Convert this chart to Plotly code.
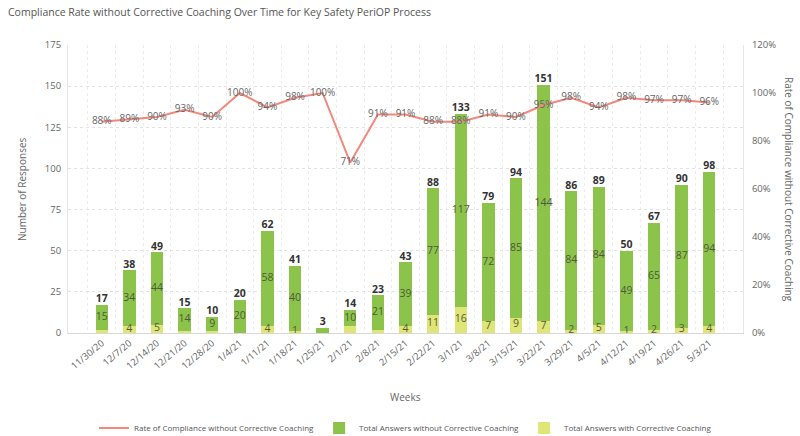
import plotly.graph_objects as go

weeks = ["11/30/20", "12/7/20", "12/14/20", "12/21/20", "12/28/20", "1/4/21", "1/11/21",
         "1/18/21", "1/25/21", "2/1/21", "2/8/21", "2/15/21", "2/22/21", "3/1/21", "3/8/21",
         "3/15/21", "3/22/21", "3/29/21", "4/5/21", "4/12/21", "4/19/21", "4/26/21", "5/3/21"]
without_coaching = [15, 34, 44, 14, 9, 20, 58, 40, 3, 10, 21, 39, 77, 117, 72, 85, 144, 84, 84, 49, 65, 87, 94]
with_coaching = [2, 4, 5, 1, 1, 0, 4, 1, 0, 4, 2, 4, 11, 16, 7, 9, 7, 2, 5, 1, 2, 3, 4]
rate_pct = [88, 89, 90, 93, 90, 100, 94, 98, 100, 71, 91, 91, 88, 88, 91, 90, 95, 98, 94, 98, 97, 97, 96]
green_label_shown = [True] * 8 + [False] + [True] * 14
yellow_label_shown = [False, True, True, False, False, False, True, True, False, False, False, True,
                      True, True, True, True, True, True, True, True, True, True, True]

totals = [a + b for a, b in zip(without_coaching, with_coaching)]

GREEN = "#8cc34b"
YELLOW = "#dfe677"
LINE = "#f3877b"
FONT = "Open Sans"
AX = "#666666"

fig = go.Figure()

fig.add_trace(go.Bar(
    x=weeks, y=with_coaching, name="Total Answers with Corrective Coaching",
    marker=dict(color=YELLOW, line=dict(width=0)), legendrank=3, hoverinfo="skip"))
fig.add_trace(go.Bar(
    x=weeks, y=without_coaching, name="Total Answers without Corrective Coaching",
    marker=dict(color=GREEN, line=dict(width=0)), legendrank=2, hoverinfo="skip"))

# inside labels
fig.add_trace(go.Scatter(
    x=weeks, y=[w + g / 2 for w, g in zip(with_coaching, without_coaching)],
    text=[str(g) if s else "" for g, s in zip(without_coaching, green_label_shown)],
    mode="text", textposition="middle center",
    textfont=dict(family=FONT, size=10.5, color="#4d5a3a"), showlegend=False, hoverinfo="skip"))
fig.add_trace(go.Scatter(
    x=weeks, y=[w / 2 + 0.5 for w in with_coaching],
    text=[str(w) if s else "" for w, s in zip(with_coaching, yellow_label_shown)],
    mode="text", textposition="middle center",
    textfont=dict(family=FONT, size=10.5, color="#5a5a3a"), showlegend=False, hoverinfo="skip"))
# totals
fig.add_trace(go.Scatter(
    x=weeks, y=totals, text=[str(t) for t in totals],
    mode="text", textposition="top center",
    textfont=dict(family=FONT, size=10.5, color="#333333", weight="bold"),
    showlegend=False, hoverinfo="skip"))

# rate line
fig.add_trace(go.Scatter(
    x=weeks, y=rate_pct, yaxis="y2", name="Rate of Compliance without Corrective Coaching",
    mode="lines+text", text=[f"{r}%" for r in rate_pct], textposition="middle center",
    textfont=dict(family=FONT, size=10, color="#666666"),
    line=dict(color=LINE, width=2), legendrank=1, hoverinfo="skip"))

fig.update_layout(
    width=800, height=436,
    margin=dict(l=68, r=57, t=45, b=103, autoexpand=False),
    barmode="stack", bargap=0.55,
    plot_bgcolor="white", paper_bgcolor="white",
    font=dict(family=FONT, size=10, color=AX),
    title=dict(text="Compliance Rate without Corrective Coaching Over Time for Key Safety PeriOP Process",
               x=8 / 800, xanchor="left", xref="container", y=1 - 12 / 436, yanchor="middle",
               yref="container", font=dict(family=FONT, size=10.5, color="#555555")),
    xaxis=dict(type="category", tickangle=-40, tickson="boundaries", showgrid=True,
               gridcolor="#ececec", griddash="dot", showline=True, linecolor="#d8d8d8",
               ticks="", automargin=False, tickfont=dict(size=9.5, color=AX)),
    yaxis=dict(range=[0, 175], dtick=25, showgrid=True, gridcolor="#e3e3e3", griddash="dot",
               zeroline=False, showline=True, linecolor="#e6e6e6", automargin=False,
               ticklabelstandoff=4, tickfont=dict(size=9.5, color=AX)),
    yaxis2=dict(range=[0, 120], dtick=20, overlaying="y", side="right", showgrid=False,
                zeroline=False, ticksuffix="%", showline=True, linecolor="#e6e6e6",
                automargin=False, ticklabelstandoff=6, tickfont=dict(size=9.5, color=AX)),
    legend=dict(orientation="h", x=0.5, xanchor="center",
                y=-95 / 288, yanchor="middle", itemwidth=30,
                font=dict(size=8, color="#555555"), traceorder="normal"),
    annotations=[
        dict(text="Weeks", xref="paper", yref="paper", x=0.5, y=-64 / 288, showarrow=False,
             font=dict(size=10, color=AX), xanchor="center", yanchor="middle"),
        dict(text="Number of Responses", xref="paper", yref="paper", x=(22 - 68) / 675, y=0.5,
             showarrow=False, textangle=-90, font=dict(size=10, color=AX),
             xanchor="center", yanchor="middle"),
        dict(text="Rate of Compliance without Corrective Coaching", xref="paper", yref="paper",
             x=(789 - 68) / 675, y=0.5, showarrow=False, textangle=90,
             font=dict(size=10, color=AX), xanchor="center", yanchor="middle"),
    ],
)

fig.write_html("out.html", config={"displayModeBar": False},
               post_script="document.body.style.margin='0';")
